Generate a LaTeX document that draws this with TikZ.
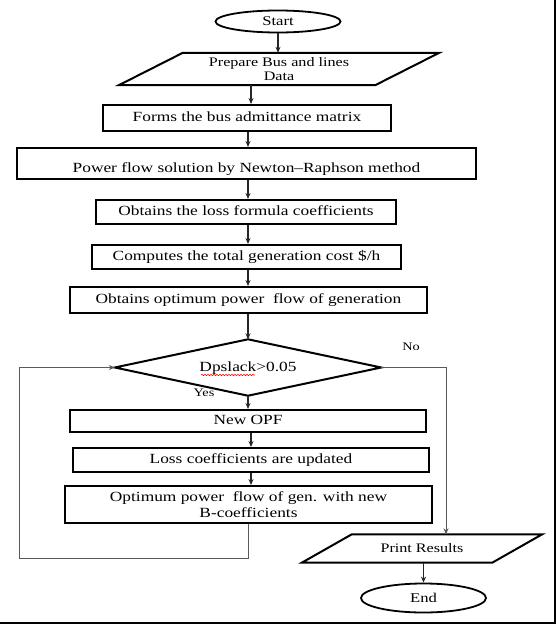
\documentclass[tikz,border=0pt]{standalone}
\usepackage{fontspec}
\setmainfont{Liberation Serif}[FakeStretch=1.24]
\usetikzlibrary{shapes.geometric,arrows.meta,decorations.pathmorphing,calc}
\begin{document}
\begin{tikzpicture}[x=1pt,y=-1pt,
  fbox/.style={draw, line width=2pt, inner sep=0pt, align=center, font=\fontsize{14}{16}\selectfont},
  one/.style={text height=9.5pt, text depth=2.5pt},
  term/.style={ellipse, draw, line width=1.8pt, inner sep=0pt, font=\fontsize{13.4}{15}\selectfont},
  pshape/.style={draw, line width=2pt, line join=miter},
  lab/.style={inner sep=0pt, font=\fontsize{11.5}{13}\selectfont},
  arr/.style={draw=black!85, line width=1.1pt, -{Stealth[length=6pt,width=5pt]}},
  loopline/.style={draw=black!65, line width=1pt, -{Stealth[length=6pt,width=5pt]}}
]
\useasboundingbox (0,0) rectangle (556,624);

% terminals
\node[term, minimum width=125pt, minimum height=22pt] (start) at (278,21.5) {Start};
\node[term, minimum width=125pt, minimum height=29pt] (end) at (423.5,598) {End};

% input parallelogram
\node[inner sep=0pt, align=center, font=\fontsize{13}{14}\selectfont,
      minimum width=320pt, minimum height=32pt] (para) at (279,69) {Prepare Bus and lines\\Data};
\draw[pshape] (para.south west) -- ([xshift=64pt]para.north west) -- (para.north east)
   -- ([xshift=-64pt]para.south east) -- cycle;

% process boxes
\node[fbox, one, minimum width=288pt, minimum height=26pt] (b1) at (247,118) {Forms the bus admittance matrix};
\node[fbox, text height=17pt, text depth=0pt, minimum width=459pt, minimum height=31pt] (b2) at (246.5,163.5) {Power flow solution by Newton–Raphson method};
\node[fbox, one, minimum width=300pt, minimum height=24pt] (b3) at (246,212) {Obtains the loss formula coefficients};
\node[fbox, one, minimum width=309pt, minimum height=24pt] (b4) at (246.5,257) {Computes the total generation cost \$/h};
\node[fbox, one, minimum width=357pt, minimum height=26pt] (b5) at (248.5,300) {Obtains optimum power\ \ flow of generation};

% decision
\node[inner sep=0pt, minimum width=266pt, minimum height=56pt, text height=9.5pt, text depth=2.5pt,
      font=\fontsize{14}{16}\selectfont] (dia) at (248,367.5) {Dpslack>0.05};
\draw[pshape] (dia.west) -- (dia.north) -- (dia.east) -- (dia.south) -- cycle;
\draw[red, line width=0.6pt, decorate, decoration={snake, amplitude=0.7pt, segment length=3pt}]
   ($(dia.center)+(-47,7.5)$) -- ($(dia.center)+(7,7.5)$);
\node[lab] (no) at (411,347) {No};
\node[lab] (yes) at (204,393) {Yes};

\node[fbox, one, minimum width=356pt, minimum height=22pt] (b6) at (248,421) {New OPF};
\node[fbox, one, minimum width=356pt, minimum height=24pt] (b7) at (251,460) {Loss coefficients are updated};
\node[fbox, minimum width=367pt, minimum height=37pt] (b8) at (248.5,504.5) {Optimum power\ \ flow of gen. with new\\B-coefficients};

% output parallelogram
\node[inner sep=0pt, font=\fontsize{13}{15}\selectfont, minimum width=240pt, minimum height=28pt] (pr) at (422,548.5) {Print Results};
\draw[pshape] (pr.south west) -- ([xshift=50pt]pr.north west) -- (pr.north east)
   -- ([xshift=-50pt]pr.south east) -- cycle;

% helper coordinates
\coordinate (col) at (248,0);
\coordinate (col2) at (251,0);
\coordinate (loopc) at (19,558);
\coordinate (nox) at (446,0);

% connectors
\draw[arr] (start.south) -- (start.south |- para.north);
\draw[arr] ([xshift=4pt]b1.north |- para.south) -- ([xshift=4pt]b1.north);
\draw[arr] (b1.south -| col) -- (b2.north -| col);
\draw[arr] (b2.south -| col) -- (b3.north -| col);
\draw[arr] (b3.south -| col) -- (b4.north -| col);
\draw[arr] (b4.south -| col) -- (b5.north -| col);
\draw[arr] (b5.south -| col) -- (dia.north);
\draw[arr] (dia.south) -- (b6.north -| dia.south);
\draw[arr] (b6.south -| col2) -- (b7.north -| col2);
\draw[arr] (b7.south -| col2) -- (b8.north -| col2);
\draw[loopline] (b8.south -| col) |- (loopc) |- (dia.west);
\draw[loopline] (dia.east) -| (pr.north -| nox);
\draw[arr] (pr.south -| end.north) -- (end.north);

% frame edges
\draw[line width=2pt] (554.5,0) -- (554.5,622.5) -- (0,622.5);
\end{tikzpicture}
\end{document}
